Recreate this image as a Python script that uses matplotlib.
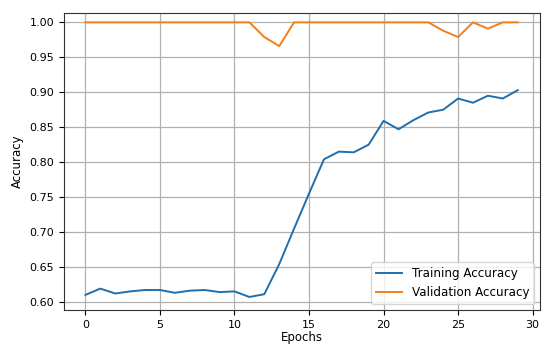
import matplotlib
matplotlib.use("Agg")
import matplotlib.pyplot as plt

epochs = list(range(30))
train_acc = [0.610, 0.619, 0.612, 0.615, 0.617, 0.617, 0.613, 0.616, 0.617, 0.614,
             0.615, 0.607, 0.611, 0.654, 0.705, 0.755, 0.804, 0.815, 0.814, 0.825,
             0.859, 0.847, 0.860, 0.871, 0.875, 0.891, 0.885, 0.895, 0.891, 0.903]
val_acc = [1.0, 1.0, 1.0, 1.0, 1.0, 1.0, 1.0, 1.0, 1.0, 1.0,
           1.0, 1.0, 0.979, 0.966, 1.0, 1.0, 1.0, 1.0, 1.0, 1.0,
           1.0, 1.0, 1.0, 1.0, 0.988, 0.979, 1.0, 0.991, 1.0, 1.0]

fig = plt.figure(figsize=(5.5, 3.49), dpi=100)
ax = fig.add_axes([0.116, 0.112, 0.866, 0.851])
ax.plot(epochs, train_acc, color="#1f6fae", lw=1.4, label="Training Accuracy")
ax.plot(epochs, val_acc, color="#f57f17", lw=1.4, label="Validation Accuracy")
ax.set_xlim(-1.45, 30.5)
ax.set_ylim(0.5885, 1.0135)
ax.set_xticks([0, 5, 10, 15, 20, 25, 30])
ax.set_yticks([0.60, 0.65, 0.70, 0.75, 0.80, 0.85, 0.90, 0.95, 1.00])
ax.tick_params(labelsize=8)
ax.grid(True, color="#b0b0b0", lw=0.9)
ax.set_xlabel("Epochs", fontsize=8.5, labelpad=1)
ax.set_ylabel("Accuracy", fontsize=8.5)
ax.legend(loc="lower right", fontsize=8.6, handlelength=2.2)
for s in ax.spines.values():
    s.set_color("#333333")
fig.savefig("out.png", dpi=100)
